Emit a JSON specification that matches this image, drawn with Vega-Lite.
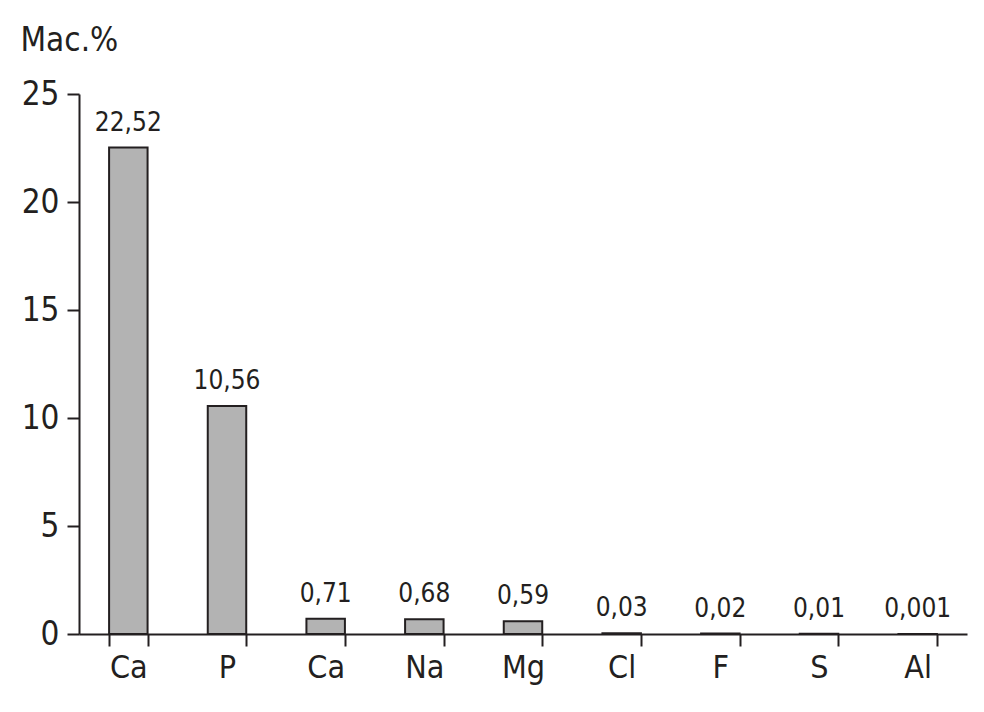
{
  "$schema": "https://vega.github.io/schema/vega-lite/v6.json",
  "autosize": "none",
  "width": 888,
  "height": 540,
  "padding": {"left": 79, "top": 94, "right": 17, "bottom": 78},
  "background": "white",
  "config": {
    "font": "Liberation Sans Narrow, DejaVu Sans Condensed, Roboto",
    "view": {"stroke": null},
    "axis": {"domainColor": "#231f20", "domainWidth": 2, "tickColor": "#231f20", "tickWidth": 2, "tickSize": 12, "grid": false, "labelColor": "#231f20", "labelFont": "Liberation Sans Narrow, DejaVu Sans Condensed, Roboto"}
  },
  "data": {
    "values": [
      {"key": "Ca1", "value": 22.52, "label": "22,52"},
      {"key": "P", "value": 10.56, "label": "10,56"},
      {"key": "Ca2", "value": 0.71, "label": "0,71"},
      {"key": "Na", "value": 0.68, "label": "0,68"},
      {"key": "Mg", "value": 0.59, "label": "0,59"},
      {"key": "Cl", "value": 0.03, "label": "0,03"},
      {"key": "F", "value": 0.02, "label": "0,02"},
      {"key": "S", "value": 0.01, "label": "0,01"},
      {"key": "Al", "value": 0.001, "label": "0,001"}
    ]
  },
  "encoding": {
    "x": {
      "field": "key",
      "type": "nominal",
      "sort": null,
      "scale": {"paddingInner": 0.61, "paddingOuter": 0.305},
      "axis": {
        "title": null,
        "labelAngle": 0,
        "tickBand": "extent",
        "labelFontSize": 32,
        "labelPadding": 6,
        "labelExpr": "replace(datum.label, /[0-9]/, '')"
      }
    },
    "y": {
      "field": "value",
      "type": "quantitative",
      "scale": {"domain": [0, 25], "nice": false},
      "axis": {
        "values": [0, 5, 10, 15, 20, 25],
        "labelFontSize": 33,
        "labelPadding": 8,
        "title": "Mac.%",
        "titleAngle": 0,
        "titleAlign": "left",
        "titleBaseline": "top",
        "titleX": -59,
        "titleY": -70,
        "titleFontSize": 33,
        "titleFontWeight": "normal",
        "titleColor": "#231f20"
      }
    }
  },
  "layer": [
    {"mark": {"type": "bar", "color": "#b3b3b3", "stroke": "#231f20", "strokeWidth": 2}},
    {
      "mark": {"type": "text", "baseline": "bottom", "dy": -12, "fontSize": 26, "color": "#231f20"},
      "encoding": {"text": {"field": "label"}}
    }
  ]
}
